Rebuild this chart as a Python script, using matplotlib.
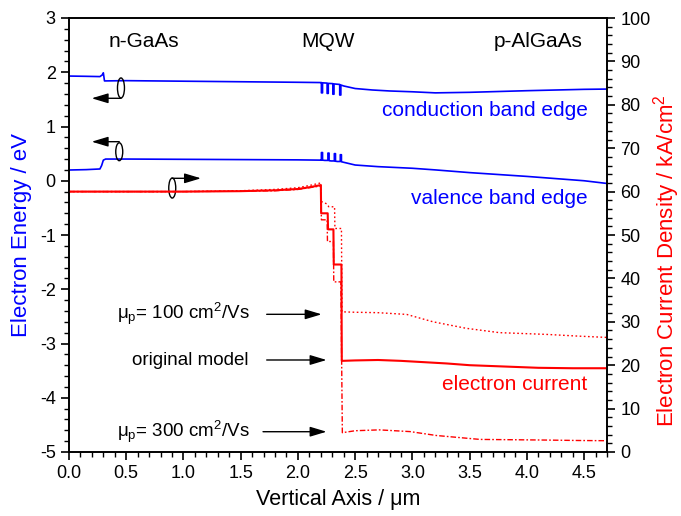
import matplotlib
matplotlib.use("Agg")
import matplotlib.pyplot as plt
from matplotlib.patches import Ellipse
from matplotlib.ticker import MultipleLocator, FormatStrFormatter

plt.rcParams['font.family'] = ['Liberation Sans', 'DejaVu Sans']
plt.rcParams['mathtext.fontset'] = 'custom'
plt.rcParams['mathtext.rm'] = 'Liberation Sans'
plt.rcParams['mathtext.it'] = 'Liberation Sans:italic'
plt.rcParams['axes.unicode_minus'] = False

# ---------------- data ----------------
# conduction band edge (eV)
cb_x = [0.0, 0.15, 0.27, 0.29, 0.30, 0.31, 0.5, 1.0, 1.5, 2.0, 2.2,
        2.205, 2.205, 2.215, 2.215,
        2.255, 2.255, 2.265, 2.265,
        2.305, 2.305, 2.315, 2.315,
        2.365, 2.365, 2.375, 2.375,
        2.40, 2.5, 2.65, 2.8, 3.0, 3.2, 3.5, 4.0, 4.5, 4.7]
cb_e = [1.93, 1.925, 1.92, 1.95, 1.99, 1.84, 1.845, 1.835, 1.825, 1.815, 1.81,
        1.81, 1.62, 1.62, 1.805,
        1.80, 1.61, 1.61, 1.795,
        1.79, 1.595, 1.595, 1.785,
        1.775, 1.58, 1.58, 1.765,
        1.747, 1.70, 1.673, 1.655, 1.64, 1.62, 1.63, 1.66, 1.685, 1.69]

# valence band edge (eV)
vb_x = [0.0, 0.15, 0.27, 0.285, 0.30, 0.32, 0.5, 1.0, 1.5, 2.0, 2.2,
        2.205, 2.205, 2.215, 2.215, 2.235,
        2.262, 2.262, 2.272, 2.272, 2.29,
        2.318, 2.318, 2.328, 2.328, 2.345,
        2.370, 2.370, 2.380, 2.380,
        2.40, 2.5, 2.7, 3.0, 3.2, 3.5, 4.0, 4.5, 4.7]
vb_e = [0.198, 0.205, 0.217, 0.28, 0.38, 0.40, 0.40, 0.395, 0.39, 0.385, 0.38,
        0.38, 0.52, 0.52, 0.38, 0.375,
        0.375, 0.51, 0.51, 0.37, 0.365,
        0.365, 0.50, 0.50, 0.36, 0.355,
        0.355, 0.48, 0.48, 0.35,
        0.34, 0.29, 0.26, 0.23, 0.20, 0.15, 0.08, 0.0, -0.05]

# electron current density (kA/cm^2), original model
jo_x = [0.0, 0.5, 1.0, 1.5, 1.8, 2.0, 2.1, 2.2, 2.203, 2.26, 2.263, 2.31, 2.313,
        2.38, 2.383, 2.5, 2.7, 2.9, 3.1, 3.3, 3.5, 3.8, 4.1, 4.4, 4.7]
jo_j = [60.0, 60.0, 60.0, 60.1, 60.3, 60.6, 61.0, 61.5, 55.0, 55.0, 51.3, 51.3, 43.2,
        43.2, 21.0, 21.1, 21.2, 21.0, 20.7, 20.4, 20.0, 19.7, 19.4, 19.3, 19.3]

# mu_p = 100 cm^2/Vs
j1_x = [0.0, 0.5, 1.0, 1.5, 1.8, 2.0, 2.1, 2.2, 2.205, 2.25, 2.27, 2.32, 2.323,
        2.38, 2.385, 2.5, 2.7, 2.95, 3.18, 3.47, 3.76, 4.17, 4.45, 4.7]
j1_j = [60.0, 60.0, 60.0, 60.2, 60.5, 60.9, 61.4, 62.0, 57.7, 57.2, 56.5, 56.5, 51.5,
        51.5, 32.3, 32.2, 32.1, 31.7, 30.0, 28.5, 27.5, 27.1, 26.7, 26.4]

# mu_p = 300 cm^2/Vs
j3_x = [0.0, 0.5, 1.0, 1.5, 1.8, 2.0, 2.1, 2.2, 2.205, 2.255, 2.258, 2.31, 2.313,
        2.375, 2.388, 2.5, 2.71, 2.98, 3.21, 3.59, 4.17, 4.45, 4.7]
j3_j = [60.0, 60.0, 60.0, 60.1, 60.2, 60.5, 60.9, 61.3, 53.5, 53.5, 48.5, 48.5, 39.2,
        39.2, 4.45, 4.9, 5.1, 4.7, 3.8, 2.9, 2.75, 2.65, 2.6]

BLUE = '#0000ff'
RED = '#ff0000'

fig = plt.figure(figsize=(6.81, 5.16), dpi=100)
ax = fig.add_axes([69/681, 64/516, 538/681, 434/516])
ax2 = ax.twinx()

ax.plot(cb_x, cb_e, color=BLUE, lw=1.2)
ax.plot(vb_x, vb_e, color=BLUE, lw=1.2)

ax2.plot(jo_x, jo_j, color=RED, lw=1.5)
ax2.plot(j1_x, j1_j, color=RED, lw=1.0, ls=(0, (1.2, 1.8)))
ax2.plot(j3_x, j3_j, color=RED, lw=1.0, ls=(0, (4, 1.5, 1.2, 1.5)))

ax.set_xlim(0, 4.7)
ax.set_ylim(-5, 3)
ax2.set_ylim(0, 100)

ax.xaxis.set_major_locator(MultipleLocator(0.5))
ax.xaxis.set_minor_locator(MultipleLocator(0.1))
ax.yaxis.set_major_locator(MultipleLocator(1))
ax.yaxis.set_minor_locator(MultipleLocator(0.2))
ax2.yaxis.set_major_locator(MultipleLocator(10))
ax2.yaxis.set_minor_locator(MultipleLocator(2))
ax.xaxis.set_major_formatter(FormatStrFormatter('%.1f'))

for a in (ax, ax2):
    a.tick_params(which='major', length=6, width=1.2, labelsize=13, direction='out')
    a.tick_params(which='minor', length=3.5, width=1.0, direction='out')
    for s in a.spines.values():
        s.set_linewidth(1.2)

ax.set_xlabel('Vertical Axis / μm', fontsize=15.5, labelpad=5)
ax.set_ylabel('Electron Energy / eV', fontsize=16, color=BLUE, labelpad=6)
ax2.set_ylabel('Electron Current Density / kA/cm$^\\mathregular{2}$', fontsize=16,
               color=RED, rotation=90, va='center', ha='center')
ax2.yaxis.set_label_coords(1.11, 0.44)

# region labels
ax.text(0.655, 2.56, 'n-GaAs', ha='center', va='center', fontsize=15)
ax.text(2.26, 2.56, 'MQW', ha='center', va='center', fontsize=15)
ax.text(4.10, 2.56, 'p-AlGaAs', ha='center', va='center', fontsize=15)

ax.text(4.53, 1.30, 'conduction band edge', ha='right', va='center', fontsize=15, color=BLUE)
ax.text(4.53, -0.32, 'valence band edge', ha='right', va='center', fontsize=15, color=BLUE)
ax.text(4.53, -3.75, 'electron current', ha='right', va='center', fontsize=15, color=RED)

# curve labels with arrows
ax.text(0.417, -2.46, 'μ$_\\mathregular{p}$= 100 cm$^\\mathregular{2}$/Vs', ha='left', va='center', fontsize=13.5)
ax.text(0.548, -3.31, 'original model', ha='left', va='center', fontsize=13.5)
ax.text(0.417, -4.63, 'μ$_\\mathregular{p}$= 300 cm$^\\mathregular{2}$/Vs', ha='left', va='center', fontsize=13.5)

arrowprops = dict(arrowstyle='-|>,head_length=1.0,head_width=0.3', color='black', lw=1.0,
                  shrinkA=0, shrinkB=0)
ax.annotate('', xy=(2.207, -2.462), xytext=(1.727, -2.462), arrowprops=arrowprops)
ax.annotate('', xy=(2.25, -3.304), xytext=(1.727, -3.304), arrowprops=arrowprops)
ax.annotate('', xy=(2.25, -4.626), xytext=(1.695, -4.626), arrowprops=arrowprops)

# axis indicators (ellipse + arrow)
for (cx, cy, h) in [(0.454, 1.71, 0.37), (0.439, 0.535, 0.33), (0.902, -0.134, 0.37)]:
    ax.add_patch(Ellipse((cx, cy), 0.061, h, fill=False, ec='black', lw=1.0, zorder=5))
ax.annotate('', xy=(0.198, 1.52), xytext=(0.454, 1.52), arrowprops=arrowprops)
ax.annotate('', xy=(0.198, 0.72), xytext=(0.439, 0.72), arrowprops=arrowprops)
ax.annotate('', xy=(1.153, 0.045), xytext=(0.902, 0.045), arrowprops=arrowprops)

fig.savefig('out.png', dpi=100)
